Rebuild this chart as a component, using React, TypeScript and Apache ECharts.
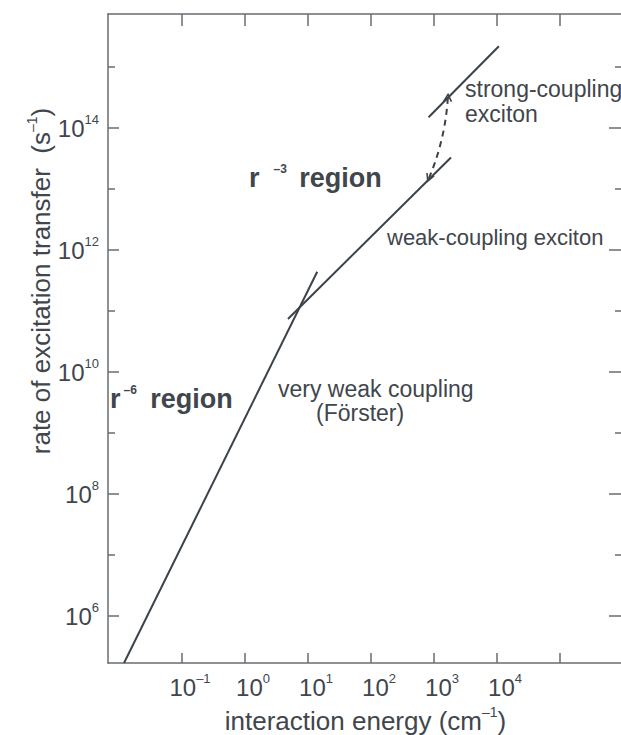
import React, { useEffect, useRef } from "react";
import * as echarts from "echarts";

// interaction energy (cm^-1) and rate of excitation transfer (s^-1)
const forsterEnergy = [0.012, 14];
const forsterRate = [1.7e5, 4.4e11];
const weakEnergy = [4.8, 1860];
const weakRate = [7.4e10, 3.3e13];
const strongEnergy = [820, 10700];
const strongRate = [1.5e14, 2.2e15];
const jumpEnergy = [830, 1660];
const jumpRate = [1.5e13, 3.2e14];

const xLabelDecades = [-1, 0, 1, 2, 3, 4];
const xTickDecades = [-1, 0, 1, 2, 3, 4, 5];
const yLabelDecades = [6, 8, 10, 12, 14];
const yMinorDecades = [7, 9, 11, 13, 15];

const FONT = "'Liberation Sans', Arial, sans-serif";
const TEXT = "#40464c";
const LINE = "#3b4249";
const AXIS = "#676c71";

const toPts = (xs: number[], ys: number[]) =>
  xs.map((x, i) => [Math.log10(x), Math.log10(ys[i])]);

const supText = (e: number) => (e < 0 ? "–" + -e : String(e));

export default function App() {
  const ref = useRef<HTMLDivElement>(null);
  useEffect(() => {
    document.body.style.margin = "0";
    if (!ref.current) return;
    const chart = echarts.init(ref.current, undefined, { renderer: "svg" });
    const xMin = -2.175;
    const xMax = 6;
    const yMin = 5.23;
    const yMax = 15.87;
    const labelRich = (size: number, pad: number[]) => ({
      b: { fontSize: size, lineHeight: 30, color: TEXT, fontFamily: FONT, padding: pad },
      s: { fontSize: 13, lineHeight: 13, color: TEXT, fontFamily: FONT, verticalAlign: "top" },
    });
    const chevron = "path://M5,0 L10,9 L8.4,9.8 L5,3.4 L1.6,9.8 L0,9 Z";
    const yBase = (position: string, show: boolean) => ({
      type: "value",
      min: yMin,
      max: yMax,
      position,
      axisLine: { show, onZero: false, lineStyle: { color: AXIS, width: 1.5 } },
      splitLine: { show: false },
    });
    chart.setOption({
      animation: false,
      grid: { left: 108, top: 14, width: 515, height: 649, containLabel: false, outerBoundsMode: "none" },
      xAxis: [
        {
          type: "value",
          min: xMin,
          max: xMax,
          position: "bottom",
          axisLine: { onZero: false, lineStyle: { color: AXIS, width: 1.5 } },
          axisTick: { inside: true, length: 10, customValues: xTickDecades, lineStyle: { color: AXIS, width: 1.5 } },
          axisLabel: {
            customValues: xLabelDecades,
            margin: 9,
            formatter: (v: number) => `{b|10}{s|${supText(Math.round(v))}}`,
            rich: labelRich(24, [0, 0, 0, 16]),
          },
          splitLine: { show: false },
          name: "{t|interaction energy (cm}{s|–1}{t|)}",
          nameLocation: "middle",
          nameGap: 42,
          nameTextStyle: {
            rich: {
              t: { fontSize: 26, lineHeight: 32, color: TEXT, fontFamily: FONT },
              s: { fontSize: 14, lineHeight: 14, color: TEXT, fontFamily: FONT, verticalAlign: "top" },
            },
          },
        },
        {
          type: "value",
          min: xMin,
          max: xMax,
          position: "top",
          axisLine: { onZero: false, lineStyle: { color: AXIS, width: 1.5 } },
          axisTick: { inside: true, length: 12, customValues: xTickDecades, lineStyle: { color: AXIS, width: 1.5 } },
          axisLabel: { show: false },
          splitLine: { show: false },
        },
      ],
      yAxis: [
        {
          ...yBase("left", true),
          axisTick: { show: true, inside: true, length: 11, customValues: yLabelDecades, lineStyle: { color: AXIS, width: 1.5 } },
          axisLabel: {
            customValues: yLabelDecades,
            margin: 9,
            formatter: (v: number) => `{b|10}{s|${supText(Math.round(v))}}`,
            rich: labelRich(24, [0, 0, 0, 0]),
          },
        },
        {
          ...yBase("left", false),
          axisTick: { show: true, inside: true, length: 7, customValues: yMinorDecades, lineStyle: { color: AXIS, width: 1.5 } },
          axisLabel: { show: false },
        },
        {
          ...yBase("right", true),
          axisTick: { show: true, inside: true, length: 14, customValues: yLabelDecades, lineStyle: { color: AXIS, width: 1.5 } },
          axisLabel: { show: false },
        },
        {
          ...yBase("right", false),
          axisTick: { show: true, inside: true, length: 8, customValues: yMinorDecades, lineStyle: { color: AXIS, width: 1.5 } },
          axisLabel: { show: false },
        },
      ],
      series: [
        {
          type: "line",
          data: toPts(forsterEnergy, forsterRate),
          symbol: "none",
          lineStyle: { color: LINE, width: 2 },
        },
        {
          type: "line",
          data: toPts(weakEnergy, weakRate),
          symbol: "none",
          lineStyle: { color: LINE, width: 2 },
        },
        {
          type: "line",
          data: toPts(strongEnergy, strongRate),
          symbol: "none",
          lineStyle: { color: LINE, width: 2 },
        },
        {
          type: "lines",
          coordinateSystem: "cartesian2d",
          symbol: [chevron, chevron],
          symbolSize: [9, 9],
          lineStyle: { color: LINE, width: 2, type: [6, 5], curveness: -0.085, opacity: 1 },
          itemStyle: { color: LINE },
          data: [{ coords: toPts(jumpEnergy, jumpRate) }],
        },
      ],
      graphic: [
        {
          type: "text",
          x: 41,
          y: 281,
          rotation: Math.PI / 2,
          style: {
            text: "{t|rate of excitation transfer  (s}{s|–1}{t|)}",
            align: "center",
            verticalAlign: "middle",
            rich: {
              t: { fontSize: 26, lineHeight: 32, fill: TEXT, fontFamily: FONT },
              s: { fontSize: 14, lineHeight: 14, fill: TEXT, fontFamily: FONT, verticalAlign: "top" },
            },
          },
        },
        {
          type: "text",
          x: 249,
          y: 178,
          style: {
            text: "{r|r}{s|–3}{r| region}",
            align: "left",
            verticalAlign: "middle",
            rich: {
              r: { fontSize: 27, lineHeight: 30, fontWeight: "bold", fill: TEXT, fontFamily: FONT },
              s: { fontSize: 12, lineHeight: 12, fontWeight: "bold", fill: TEXT, fontFamily: FONT, verticalAlign: "top", padding: [0, 5, 0, 14] },
            },
          },
        },
        {
          type: "text",
          x: 110,
          y: 399,
          style: {
            text: "{r|r}{s|–6}{r| region}",
            align: "left",
            verticalAlign: "middle",
            rich: {
              r: { fontSize: 27, lineHeight: 30, fontWeight: "bold", fill: TEXT, fontFamily: FONT },
              s: { fontSize: 12, lineHeight: 12, fontWeight: "bold", fill: TEXT, fontFamily: FONT, verticalAlign: "top", padding: [0, 6, 0, 3] },
            },
          },
        },
        { type: "text", x: 465, y: 89, style: { text: "strong-coupling", fontSize: 23, fontFamily: FONT, fill: TEXT, verticalAlign: "middle" } },
        { type: "text", x: 465, y: 114, style: { text: "exciton", fontSize: 23, fontFamily: FONT, fill: TEXT, verticalAlign: "middle" } },
        { type: "text", x: 387, y: 237, style: { text: "weak-coupling exciton", fontSize: 22, fontFamily: FONT, fill: TEXT, verticalAlign: "middle" } },
        { type: "text", x: 278, y: 389, style: { text: "very weak coupling", fontSize: 23, fontFamily: FONT, fill: TEXT, verticalAlign: "middle" } },
        { type: "text", x: 316, y: 413, style: { text: "(Förster)", fontSize: 23, fontFamily: FONT, fill: TEXT, verticalAlign: "middle" } },
      ],
    });
    return () => chart.dispose();
  }, []);
  return <div ref={ref} style={{ width: 621, height: 735 }} />;
}
